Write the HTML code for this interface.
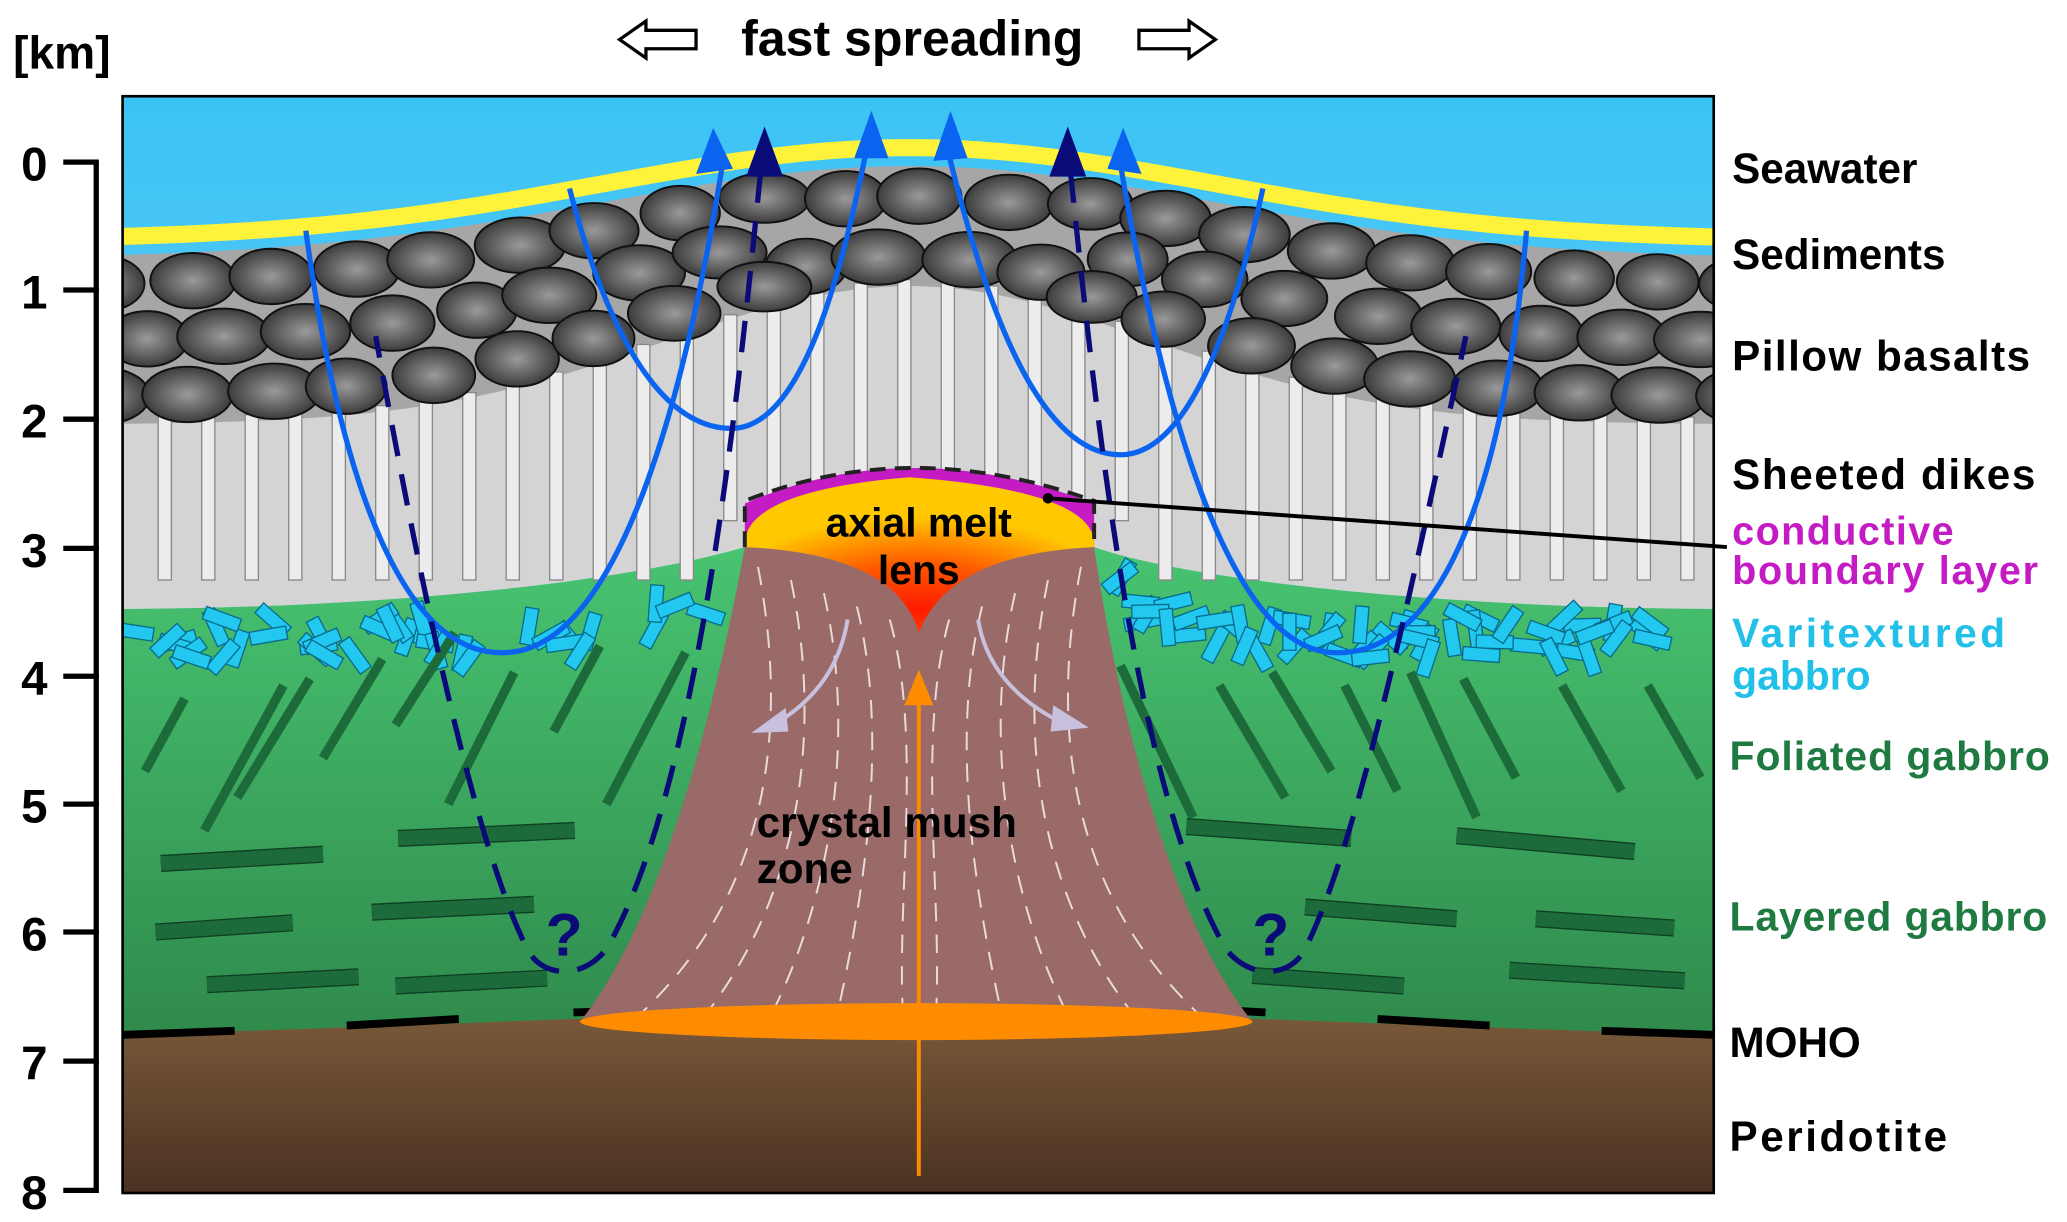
<!DOCTYPE html>
<html><head><meta charset="utf-8"><style>
html,body{margin:0;padding:0;background:#fff;}
svg{display:block;}
text{font-family:"Liberation Sans","DejaVu Sans",sans-serif;font-weight:bold;}
</style></head><body>
<svg id="s" width="2067" height="1222" viewBox="0 0 1568 927" preserveAspectRatio="none" xmlns="http://www.w3.org/2000/svg">
<defs>
<linearGradient id="sea" x1="0" y1="0" x2="0" y2="1"><stop offset="0" stop-color="#3cc3f5"/><stop offset="1" stop-color="#8ad8fb"/></linearGradient>
<linearGradient id="per" x1="0" y1="0" x2="0" y2="1"><stop offset="0" stop-color="#7b5a3a"/><stop offset="1" stop-color="#4a3222"/></linearGradient>
<linearGradient id="gab" x1="0" y1="0" x2="0" y2="1"><stop offset="0" stop-color="#48c471"/><stop offset="1" stop-color="#2f8a4c"/></linearGradient>
<radialGradient id="pil"><stop offset="0" stop-color="#9a9a9a"/><stop offset="1" stop-color="#3c3c3c"/></radialGradient>
<radialGradient id="lens" cx="0.5" cy="0.85" r="0.6"><stop offset="0" stop-color="#ff1a00"/><stop offset="0.5" stop-color="#ff5a00"/><stop offset="1" stop-color="#ffc800"/></radialGradient>
<clipPath id="box"><rect x="93" y="73" width="1207" height="832"/></clipPath>
</defs>
<g clip-path="url(#box)">
<rect x="93" y="73" width="1207" height="832" fill="url(#sea)"/>
<path id="pilArea" d="" fill="#a6a6a6"/>
<path id="dikeArea" d="" fill="#d4d4d4"/>
<path d="M80,462 C300,462 480,440 565,415 L830,415 C900,440 1100,462 1310,462 L1310,785 L80,785Z" fill="url(#gab)"/>
<g id="dyn"></g>
<path d="M80,785 C300,780 500,768 690,766 C880,768 1100,780 1310,785 L1310,905 L80,905Z" fill="url(#per)"/>
<g stroke="#000" stroke-width="6">
<line x1="93" y1="785" x2="178" y2="782"/><line x1="263" y1="778" x2="348" y2="773"/><line x1="435" y1="768" x2="470" y2="767"/>
<line x1="940" y1="767" x2="960" y2="768"/><line x1="1045" y1="773" x2="1130" y2="778"/><line x1="1215" y1="782" x2="1300" y2="785"/>
</g>
<path d="M565,415 C540,550 500,700 440,775 L950,775 C890,700 850,550 830,415Z" fill="#9a6a68"/>
<g id="mushLines" stroke="#e6dcdc" stroke-width="1.5" fill="none" stroke-dasharray="14 10"></g>
<ellipse cx="695" cy="775" rx="255" ry="14" fill="#ff8c00"/>
<path d="M565,415 L565,382 Q690,328 830,382 L830,415Z" fill="#c41bc4"/>
<path d="M565,410 Q570,372 690,362 Q825,372 830,410 L830,415 Q720,420 697,480 Q680,420 565,415Z" fill="url(#lens)"/>
<path d="M565,415 L565,380 Q690,330 830,380 L830,415" fill="none" stroke="#222" stroke-width="3" stroke-dasharray="12 7"/>
<line x1="697" y1="892" x2="697" y2="530" stroke="#ff8c00" stroke-width="3"/>
<polygon points="697,508 686,535 708,535" fill="#ff8c00"/>
<path d="M643,470 Q635,520 590,548" fill="none" stroke="#c8c0dc" stroke-width="3"/><polygon points="570,556 596,537 598,555" fill="#c8c0dc"/>
<path d="M742,470 Q750,520 805,548" fill="none" stroke="#c8c0dc" stroke-width="3"/><polygon points="826,552 799,535 797,555" fill="#c8c0dc"/>
<g fill="none" stroke="#0a64f0" stroke-width="4">
<path d="M232,175 C260,380 310,500 385,495 C470,490 520,300 548,125"/>
<path d="M432,143 C460,250 500,325 555,325 C610,325 640,200 658,110"/>
<path d="M718,110 C740,200 780,345 850,345 C900,345 935,250 958,143"/>
<path d="M850,125 C880,300 930,490 1010,495 C1090,500 1140,380 1158,175"/>
</g>
<g fill="#0a64f0"><polygon points="541,97 528,132 556,128"/><polygon points="661,84 648,120 674,120"/><polygon points="721,84 708,122 734,120"/><polygon points="852,97 840,128 866,132"/></g>
<g fill="none" stroke="#0a0a78" stroke-width="4" stroke-dasharray="24 14">
<path d="M577,130 C560,300 530,600 460,720 C440,745 410,740 400,720 C360,640 320,450 285,255"/>
<path d="M812,130 C830,300 860,600 930,720 C950,745 980,740 990,720 C1030,640 1070,450 1112,255"/>
</g>
<g fill="#0a0a78"><polygon points="580,96 566,134 594,134"/><polygon points="810,96 796,134 824,134"/></g>
<text x="428" y="725" font-size="46" fill="#0a0a78" text-anchor="middle" font-weight="normal">?</text>
<text x="964" y="725" font-size="46" fill="#0a0a78" text-anchor="middle" font-weight="normal">?</text>
<text x="697" y="407" font-size="31" text-anchor="middle">axial melt</text>
<text x="697" y="443" font-size="31" text-anchor="middle">lens</text>
<text x="574" y="635" font-size="32">crystal mush</text>
<text x="574" y="670" font-size="32">zone</text>
</g>
<rect x="93" y="73" width="1207" height="832" fill="none" stroke="#000" stroke-width="2"/>
<line x1="795" y1="378" x2="1310" y2="415" stroke="#000" stroke-width="3"/><circle cx="795" cy="378" r="4"/>
<g stroke="#000" stroke-width="4" fill="none"><path d="M73,123 L73,903"/>
<path d="M48,123H75M48,220H75M48,318H75M48,416H75M48,513H75M48,610H75M48,707H75M48,805H75M48,903H75"/></g>
<g font-size="36" text-anchor="middle">
<text x="26" y="137">0</text><text x="26" y="234">1</text><text x="26" y="332">2</text><text x="26" y="430">3</text><text x="26" y="527">4</text><text x="26" y="624">5</text><text x="26" y="721">6</text><text x="26" y="819">7</text><text x="26" y="917">8</text></g>
<text x="10" y="52" font-size="35">[km]</text>
<text x="692" y="42" font-size="38" text-anchor="middle">fast spreading</text>
<path d="M470,30 L490,16 L490,23 L528,23 L528,37 L490,37 L490,44Z" fill="#fff" stroke="#000" stroke-width="2.5"/>
<path d="M922,30 L902,16 L902,23 L864,23 L864,37 L902,37 L902,44Z" fill="#fff" stroke="#000" stroke-width="2.5"/>
<g font-size="32">
<text x="1314" y="139">Seawater</text><text x="1314" y="204">Sediments</text><text x="1314" y="281" textLength="226">Pillow basalts</text><text x="1314" y="371" textLength="230">Sheeted dikes</text>
<text x="1314" y="413" fill="#c41bc4" font-size="30" textLength="168">conductive</text><text x="1314" y="443" fill="#c41bc4" font-size="30" textLength="232">boundary layer</text>
<text x="1314" y="491" fill="#20c0e8" font-size="31" textLength="207">Varitextured</text><text x="1314" y="523" fill="#20c0e8" font-size="31">gabbro</text>
<text x="1312" y="584" fill="#1e7a40" font-size="31" textLength="243">Foliated gabbro</text><text x="1312" y="706" fill="#1e7a40" font-size="31" textLength="241">Layered gabbro</text>
<text x="1312" y="802">MOHO</text><text x="1312" y="873" textLength="165">Peridotite</text></g>
</svg>
<script>
var NS="http://www.w3.org/2000/svg";
function el(t,a,p){var e=document.createElementNS(NS,t);for(var k in a)e.setAttribute(k,a[k]);(p||document.getElementById('dyn')).appendChild(e);return e;}
function g(x,c,w){return Math.exp(-Math.pow((x-c)/w,2));}
function sedTop(x){return 186-70*g(x,690,330);}
function pilTop(x){return sedTop(x)+10;}
function pilBot(x){return 322-105*g(x,690,260);}
var d1="M80,"+pilTop(80),d2="M80,"+pilBot(80);
for(var x=80;x<=1310;x+=10){d1+=" L"+x+","+pilTop(x);}
for(var x=1310;x>=80;x-=10){d1+=" L"+x+","+(pilBot(x)+1);}
document.getElementById('pilArea').setAttribute('d',d1+"Z");
for(var x=80;x<=1310;x+=10){d2+=" L"+x+","+pilBot(x);}
d2+=" L1310,462 C1100,462 900,440 830,415 L565,415 C480,440 300,462 80,462Z";
document.getElementById('dikeArea').setAttribute('d',d2);
var ds="M80,"+(sedTop(80)-4);for(var x=80;x<=1310;x+=10)ds+=" L"+x+","+(sedTop(x)-4);
el('path',{d:ds,fill:'none',stroke:'#fff23a','stroke-width':13});
for(var x=120;x<1300;x+=33){var t=pilBot(x)-5;var b=(400+(x%66?40:20));if(x>540&&x<850)b=Math.min(b,395);
el('rect',{x:x,y:t,width:10,height:b-t,fill:'#ececec',stroke:'#888','stroke-width':1});}
var seed=3;function r(){seed=(seed*9301+49297)%233280;return seed/233280;}
for(var row=0;row<5;row++){for(var x=80;x<1330;x+=62){var xx=x+(row%2)*31+(r()-0.5)*10;var t=pilTop(xx),b=pilBot(xx);var h=(b-t);var n=Math.max(1,Math.round(h/40));if(row>=n)continue;var y=t+h*(row+0.5)/n;
el('ellipse',{cx:xx,cy:y,rx:30+r()*6,ry:Math.min(21,h/n/2+2),fill:'url(#pil)',stroke:'#111','stroke-width':1.5});}}
for(var i=0;i<120;i++){var x=100+r()*1200;if(x>548&&x<848){continue;}var y=(x<565?462-(x>450?(x-450)*0.35:0):462-(x<940?(940-x)*0.35:0))+6+r()*32;
var a=r()*180;el('rect',{x:-14,y:-5,width:28,height:10,fill:'#22c8f0',stroke:'#0a6a8a','stroke-width':1,transform:'translate('+x+','+y+') rotate('+a+')'});}
var fl=[[110,585,140,530],[155,630,215,520],[180,605,235,515],[245,575,290,500],[300,550,345,480],[340,610,390,510],[420,555,455,490],[460,610,520,495],[850,505,905,620],[925,520,975,605],[965,510,1010,585],[1020,520,1060,600],[1070,510,1120,620],[1110,515,1150,590],[1185,520,1230,600],[1250,520,1290,590]];
fl.forEach(function(l){el('line',{x1:l[0],y1:l[1],x2:l[2],y2:l[3],stroke:'#1d6b3a','stroke-width':7});});
var ly=[[122,655,245,648],[302,636,436,630],[118,707,222,700],[282,692,405,686],[157,747,272,741],[300,748,415,742],[900,627,1025,636],[1105,634,1240,646],[990,688,1105,697],[1165,697,1270,704],[950,740,1065,748],[1145,736,1278,744]];
ly.forEach(function(l){el('line',{x1:l[0],y1:l[1],x2:l[2],y2:l[3],stroke:'#0f3f22','stroke-width':13});el('line',{x1:l[0],y1:l[1],x2:l[2],y2:l[3],stroke:'#1d6b3a','stroke-width':11});});
var ml=document.getElementById('mushLines');
[575,600,625,650,675].forEach(function(x0,i){var y0=430+i*10;
el('path',{d:"M"+x0+","+y0+" C"+(x0+25)+",560 "+(x0+5)+",680 "+(x0-90+i*25)+",770"},ml);
var x1=1395-x0;el('path',{d:"M"+x1+","+y0+" C"+(x1-25)+",560 "+(x1-5)+",680 "+(x1+90-i*25)+",770"},ml);});
</script>
</body></html>
